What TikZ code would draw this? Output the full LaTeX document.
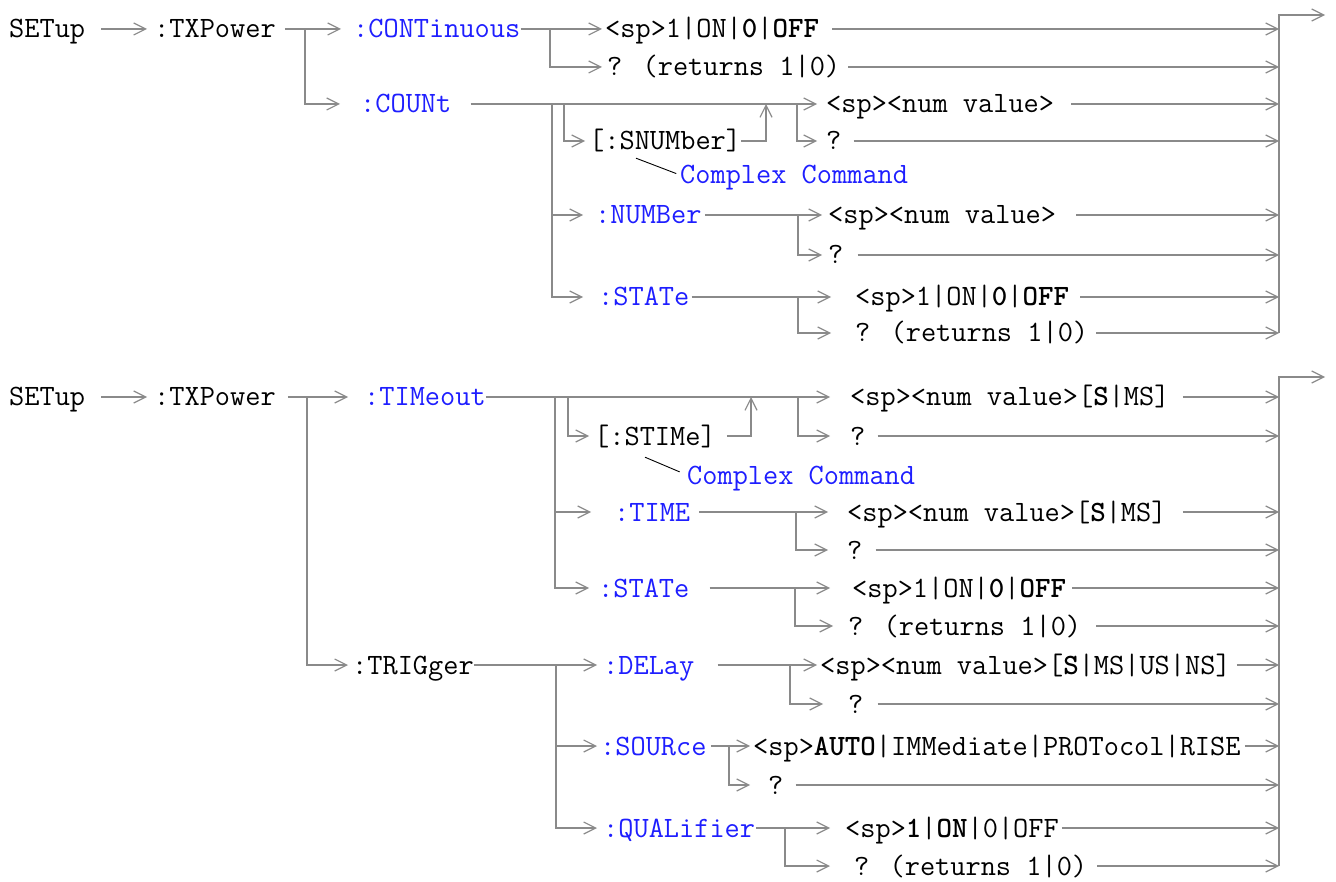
\documentclass[tikz,border=0pt]{standalone}
\usepackage{tikz}
\usetikzlibrary{arrows.meta}
\definecolor{cmdblue}{RGB}{30,30,255}
\definecolor{linegray}{RGB}{138,138,138}

\begin{document}
\begin{tikzpicture}[
  x=1pt, y=-1pt,
  txt/.style={anchor=west, inner sep=0pt, text height=18pt, text depth=0pt, font=\ttfamily\fontsize{29.5}{32}\selectfont},
  cmd/.style={txt, text=cmdblue},
  wire/.style={draw=linegray, line width=1.8pt},
  note/.style={draw=black, line width=0.9pt},
  >={Straight Barb[length=12pt,width=12pt,line width=1.2pt]}
]
\useasboundingbox (0,0) rectangle (1336,882);

\node[txt] (setup1) at (9,29) {SETup};
\node[txt] (txp1) at (154,29) {:TXPower};
\node[cmd] (cont) at (353,29) {:CONTinuous};
\node[txt] (contv) at (605,29) {<sp>1|ON|\textbf{0}|\textbf{OFF}};
\node[txt] (contq) at (607,67) {? (returns 1|0)};
\node[cmd] (cnt) at (360,104) {:COUNt};
\node[txt] (snum) at (589,141) {[:SNUMber]};
\node[cmd] (cc1) at (680,175) {Complex Command};
\node[txt] (cntv) at (826,104) {<sp><num value>};
\node[txt] (cntq) at (826,141) {?};
\node[cmd] (numb) at (595,215) {:NUMBer};
\node[txt] (numv) at (828,215) {<sp><num value>};
\node[txt] (numq) at (828,255) {?};
\node[cmd] (stat1) at (598,297) {:STATe};
\node[txt] (statv1) at (855,297) {<sp>1|ON|\textbf{0}|\textbf{OFF}};
\node[txt] (statq1) at (855,333) {? (returns 1|0)};

\coordinate (j1) at (305,29);
\coordinate (j2) at (550,29);
\coordinate (ja) at (552,104);
\coordinate (jb) at (564,104);
\coordinate (jc) at (797,104);
\coordinate (up1) at (766,104);
\coordinate (jn) at (798,215);
\coordinate (js) at (798,297);
\coordinate (rb1) at (1279,15);
\coordinate (out1) at (1325,15);

\draw[wire,->,shorten <=16pt,shorten >=7pt] (setup1) -- (txp1);
\draw[wire,->,shorten <=9pt,shorten >=12pt] (txp1) -- (cont);
\draw[wire,->,shorten >=20pt] (j1) |- (cnt);
\draw[wire,->,shorten >=3pt] (cont) -- (contv);
\draw[wire,->,shorten >=5pt] (j2) |- (contq);
\draw[wire,->,shorten <=19pt,shorten >=9pt] (cnt) -- (cntv);
\draw[wire,->,shorten >=4pt] (jb) |- (snum);
\draw[wire,->] (snum) -| (up1);
\draw[wire,->,shorten >=9pt] (jc) |- (cntq);
\draw[wire,->,shorten >=12pt] (ja) |- (numb);
\draw[wire,->,shorten >=15pt] (ja) |- (stat1);
\draw[wire,->,shorten <=3pt,shorten >=6pt] (numb) -- (numv);
\draw[wire,->,shorten >=6pt] (jn) |- (numq);
\draw[wire,->,shorten <=2pt,shorten >=24pt] (stat1) -- (statv1);
\draw[wire,->,shorten >=24pt] (js) |- (statq1);
\draw[wire,->,shorten <=13pt] (contv) -- (contv -| rb1);
\draw[wire,->,shorten <=8pt] (contq) -- (contq -| rb1);
\draw[wire,->,shorten <=17pt] (cntv) -- (cntv -| rb1);
\draw[wire,->,shorten <=12pt] (cntq) -- (cntq -| rb1);
\draw[wire,->,shorten <=20pt] (numv) -- (numv -| rb1);
\draw[wire,->,shorten <=14pt] (numq) -- (numq -| rb1);
\draw[wire,->,shorten <=11pt] (statv1) -- (statv1 -| rb1);
\draw[wire,->,shorten <=8pt] (statq1) -- (statq1 -| rb1);
\draw[wire,->] (rb1 |- statq1) -- (rb1) -- (out1);
\draw[note,shorten >=4pt] (snum.south west) ++(47,8) -- (cc1.west);

\node[txt] (setup2) at (9,397) {SETup};
\node[txt] (txp2) at (154,397) {:TXPower};
\node[cmd] (tim) at (364,397) {:TIMeout};
\node[txt] (stim) at (594,436) {[:STIMe]};
\node[cmd] (cc2) at (687,475) {Complex Command};
\node[txt] (timv) at (850,397) {<sp><num value>[\textbf{S}|MS]};
\node[txt] (timq) at (850,436) {?};
\node[cmd] (time) at (614,512) {:TIME};
\node[txt] (timev) at (847,512) {<sp><num value>[\textbf{S}|MS]};
\node[txt] (timeq) at (847,550) {?};
\node[cmd] (stat2) at (598,588) {:STATe};
\node[txt] (statv2) at (852,588) {<sp>1|ON|\textbf{0}|\textbf{OFF}};
\node[txt] (statq2) at (848,626) {? (returns 1|0)};
\node[txt] (trig) at (352,665) {:TRIGger};
\node[cmd] (del) at (603,665) {:DELay};
\node[txt] (delv) at (820,665) {<sp><num value>[\textbf{S}|MS|US|NS]};
\node[txt] (delq) at (848,704) {?};
\node[cmd] (src) at (600,746) {:SOURce};
\node[txt] (srcv) at (753,746) {<sp>\textbf{AUTO}|IMMediate|PROTocol|RISE};
\node[txt] (srcq) at (768,785) {?};
\node[cmd] (qual) at (603,828) {:QUALifier};
\node[txt] (qualv) at (845,828) {<sp>\textbf{1}|\textbf{ON}|0|OFF};
\node[txt] (qualq) at (854,866) {? (returns 1|0)};

\coordinate (k1) at (307,397);
\coordinate (ka) at (555,397);
\coordinate (kb) at (568,397);
\coordinate (kc) at (798,397);
\coordinate (up2) at (751,397);
\coordinate (kt) at (796,512);
\coordinate (ks) at (795,588);
\coordinate (kg) at (556,665);
\coordinate (kd) at (790,665);
\coordinate (kr) at (729,746);
\coordinate (kq) at (785,828);
\coordinate (rb2) at (1279,377);
\coordinate (out2) at (1325,377);

\draw[wire,->,shorten <=16pt,shorten >=7pt] (setup2) -- (txp2);
\draw[wire,->,shorten <=12pt,shorten >=16pt] (txp2) -- (tim);
\draw[wire,->,shorten >=4pt] (k1) |- (trig);
\draw[wire,->,shorten >=20pt] (tim) -- (timv);
\draw[wire,->,shorten >=5pt] (kb) |- (stim);
\draw[wire,->,shorten <=11pt] (stim) -| (up2);
\draw[wire,->,shorten >=20pt] (kc) |- (timq);
\draw[wire,->,shorten >=23pt] (ka) |- (time);
\draw[wire,->,shorten >=9pt] (ka) |- (stat2);
\draw[wire,->,shorten <=9pt,shorten >=19pt] (time) -- (timev);
\draw[wire,->,shorten >=19pt] (kt) |- (timeq);
\draw[wire,->,shorten <=20pt,shorten >=22pt] (stat2) -- (statv2);
\draw[wire,->,shorten >=15pt] (ks) |- (statq2);
\draw[wire,->,shorten >=6pt] (trig) -- (del);
\draw[wire,->,shorten >=3pt] (kg) |- (src);
\draw[wire,->,shorten >=6pt] (kg) |- (qual);
\draw[wire,->,shorten <=23pt,shorten >=3pt] (del) -- (delv);
\draw[wire,->,shorten >=25pt] (kd) |- (delq);
\draw[wire,->,shorten <=4pt,shorten >=3pt] (src) -- (srcv);
\draw[wire,->,shorten >=18pt] (kr) |- (srcq);
\draw[wire,->,shorten <=1pt,shorten >=15pt] (qual) -- (qualv);
\draw[wire,->,shorten >=24pt] (kq) |- (qualq);
\draw[wire,->,shorten <=13pt] (timv) -- (timv -| rb2);
\draw[wire,->,shorten <=12pt] (timq) -- (timq -| rb2);
\draw[wire,->,shorten <=16pt] (timev) -- (timev -| rb2);
\draw[wire,->,shorten <=13pt] (timeq) -- (timeq -| rb2);
\draw[wire,->,shorten <=6pt] (statv2) -- (statv2 -| rb2);
\draw[wire,->,shorten <=15pt] (statq2) -- (statq2 -| rb2);
\draw[wire,->,shorten <=6pt] (delv) -- (delv -| rb2);
\draw[wire,->,shorten <=14pt] (delq) -- (delq -| rb2);
\draw[wire,->,shorten <=4pt] (srcv) -- (srcv -| rb2);
\draw[wire,->,shorten <=12pt] (srcq) -- (srcq -| rb2);
\draw[wire,->,shorten <=3pt] (qualv) -- (qualv -| rb2);
\draw[wire,->,shorten <=10pt] (qualq) -- (qualq -| rb2);
\draw[wire,->] (rb2 |- qualq) -- (rb2) -- (out2);
\draw[note,shorten >=8pt] (stim.south west) ++(51,12) -- (cc2.west);
\end{tikzpicture}
\end{document}
